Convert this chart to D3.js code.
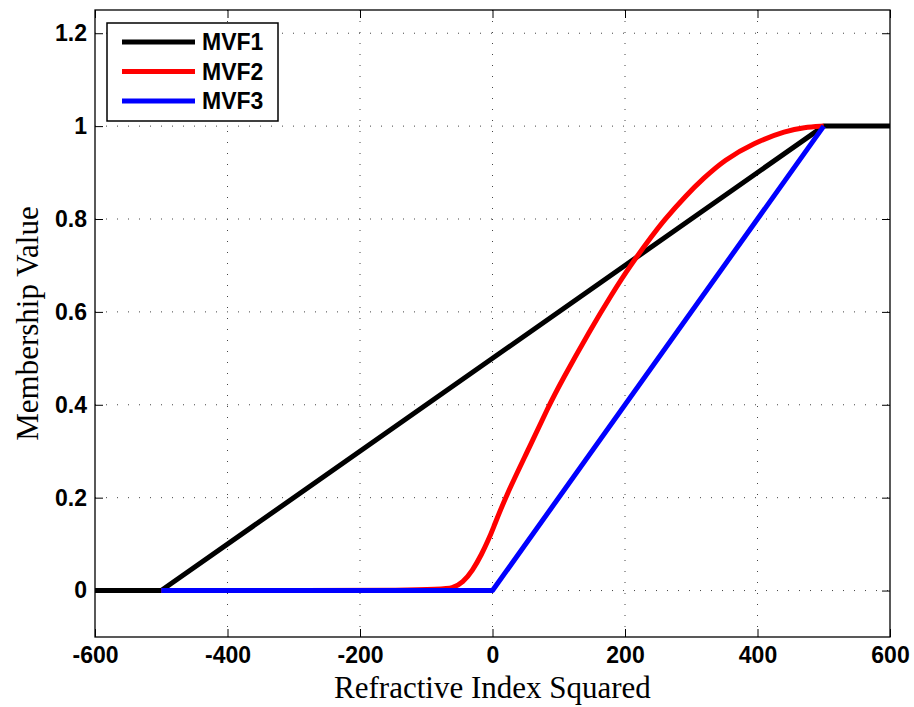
<!DOCTYPE html>
<html lang="en">
<head>
<meta charset="UTF-8" />
<title>Membership functions</title>
<script src="https://cdn.jsdelivr.net/npm/d3@7"></script>
<style>
	body { margin: 0; background: #fff; }
	svg { display: block; }
</style>
</head>
<body>
<svg id="vis" width="914" height="707"></svg>
<script>
// data
var xTicks = [-600, -400, -200, 0, 200, 400, 600];
var xTickLabels = ["-600", "-400", "-200", "0", "200", "400", "600"];
var yTicks = [0, 0.2, 0.4, 0.6, 0.8, 1, 1.2];
var yTickLabels = ["0", "0.2", "0.4", "0.6", "0.8", "1", "1.2"];

var mvf1X = [-600, -500, 500, 600];
var mvf1Y = [0, 0, 1, 1];

var mvf2X = [-500, -80, -60, -45, -30, -16, -6, 0, 19, 57, 84, 104, 147, 180, 208, 242, 258, 293, 318, 350, 394, 444, 470, 500];
var mvf2Y = [0, 0, 0.005, 0.017, 0.043, 0.079, 0.11, 0.13, 0.2, 0.312, 0.395, 0.45, 0.56, 0.638, 0.70, 0.766, 0.796, 0.852, 0.887, 0.927, 0.964, 0.99, 0.997, 1];

var mvf3X = [-500, 0, 500];
var mvf3Y = [0, 0, 1];

var seriesNames = ["MVF1", "MVF2", "MVF3"];
var seriesColors = ["#000000", "#ff0000", "#0000ff"];

// layout
var mLeft = 95, mRight = 890, mTop = 10, mBottom = 637;

var scaleX = d3.scaleLinear().domain([-600, 600]).range([mLeft, mRight]);
var scaleY = d3.scaleLinear().domain([-0.1, 1.25]).range([mBottom, mTop]);

var svg = d3.select("#vis");

// grille pointillée
var grid = svg.append("g");
xTicks.forEach(function (t) {
	if (t === -600 || t === 600) return;
	grid.append("line")
		.attr("x1", scaleX(t)).attr("x2", scaleX(t))
		.attr("y1", mTop).attr("y2", mBottom);
});
yTicks.forEach(function (t) {
	grid.append("line")
		.attr("x1", mLeft).attr("x2", mRight)
		.attr("y1", scaleY(t)).attr("y2", scaleY(t));
});
grid.selectAll("line")
	.attr("stroke", "#444")
	.attr("stroke-width", 1)
	.attr("stroke-dasharray", "1,10");

// axes (ticks vers l'intérieur, sur les 4 côtés)
var tickLen = 8;
var fmtX = function (d) { return xTickLabels[xTicks.indexOf(d)]; };
var fmtY = function (d) { return yTickLabels[yTicks.indexOf(d)]; };

var gxB = svg.append("g").attr("transform", "translate(0," + mBottom + ")")
	.call(d3.axisBottom(scaleX).tickValues(xTicks).tickSizeInner(-tickLen).tickSizeOuter(0).tickPadding(10).tickFormat(fmtX));
var gxT = svg.append("g").attr("transform", "translate(0," + mTop + ")")
	.call(d3.axisTop(scaleX).tickValues(xTicks).tickSizeInner(-tickLen).tickSizeOuter(0).tickFormat(""));
var gyL = svg.append("g").attr("transform", "translate(" + mLeft + ",0)")
	.call(d3.axisLeft(scaleY).tickValues(yTicks).tickSizeInner(-tickLen).tickSizeOuter(0).tickPadding(8).tickFormat(fmtY));
var gyR = svg.append("g").attr("transform", "translate(" + mRight + ",0)")
	.call(d3.axisRight(scaleY).tickValues(yTicks).tickSizeInner(-tickLen).tickSizeOuter(0).tickFormat(""));

[gxB, gxT, gyL, gyR].forEach(function (g) {
	g.selectAll(".domain").remove();
	g.selectAll("line").attr("stroke", "#000").attr("stroke-width", 1);
	g.selectAll("text")
		.attr("fill", "#000")
		.style("font-family", "'Liberation Sans', Arial, sans-serif")
		.style("font-weight", "bold")
		.style("font-size", "23px");
});

// cadre
svg.append("rect")
	.attr("x", mLeft).attr("y", mTop)
	.attr("width", mRight - mLeft).attr("height", mBottom - mTop)
	.attr("fill", "none").attr("stroke", "#000").attr("stroke-width", 1.3);

// courbes
var line = d3.line()
	.x(function (d) { return scaleX(d[0]); })
	.y(function (d) { return scaleY(d[1]); });

var series = [
	d3.zip(mvf1X, mvf1Y),
	d3.zip(mvf2X, mvf2Y),
	d3.zip(mvf3X, mvf3Y)
];

var gLines = svg.append("g");
for (var j = 0; j < series.length; j++) {
	gLines.append("path")
		.attr("d", (j === 1 ? line.curve(d3.curveBasis) : line.curve(d3.curveLinear))(series[j]))
		.attr("fill", "none")
		.attr("stroke", seriesColors[j])
		.attr("stroke-width", 5)
		.attr("stroke-linejoin", "round");
}

// légende
var leg = svg.append("g").attr("transform", "translate(107,23)");
leg.append("rect")
	.attr("width", 171).attr("height", 98)
	.attr("fill", "#fff").attr("stroke", "#000").attr("stroke-width", 1.5);
seriesNames.forEach(function (name, i) {
	var yy = 19 + i * 29.5;
	leg.append("line")
		.attr("x1", 15).attr("x2", 88)
		.attr("y1", yy).attr("y2", yy)
		.attr("stroke", seriesColors[i]).attr("stroke-width", 5);
	leg.append("text")
		.attr("x", 95).attr("y", yy)
		.attr("dy", "0.36em")
		.style("font-family", "'Liberation Sans', Arial, sans-serif")
		.style("font-weight", "bold")
		.style("font-size", "23px")
		.text(name);
});

// titres des axes
svg.append("text")
	.attr("x", (mLeft + mRight) / 2).attr("y", 698)
	.attr("text-anchor", "middle")
	.style("font-family", "'Liberation Serif', 'Times New Roman', serif")
	.style("font-size", "31px")
	.text("Refractive Index Squared");

svg.append("text")
	.attr("transform", "translate(38," + ((mTop + mBottom) / 2) + ") rotate(-90)")
	.attr("text-anchor", "middle")
	.style("font-family", "'Liberation Serif', 'Times New Roman', serif")
	.style("font-size", "31px")
	.text("Membership Value");
</script>
</body>
</html>
